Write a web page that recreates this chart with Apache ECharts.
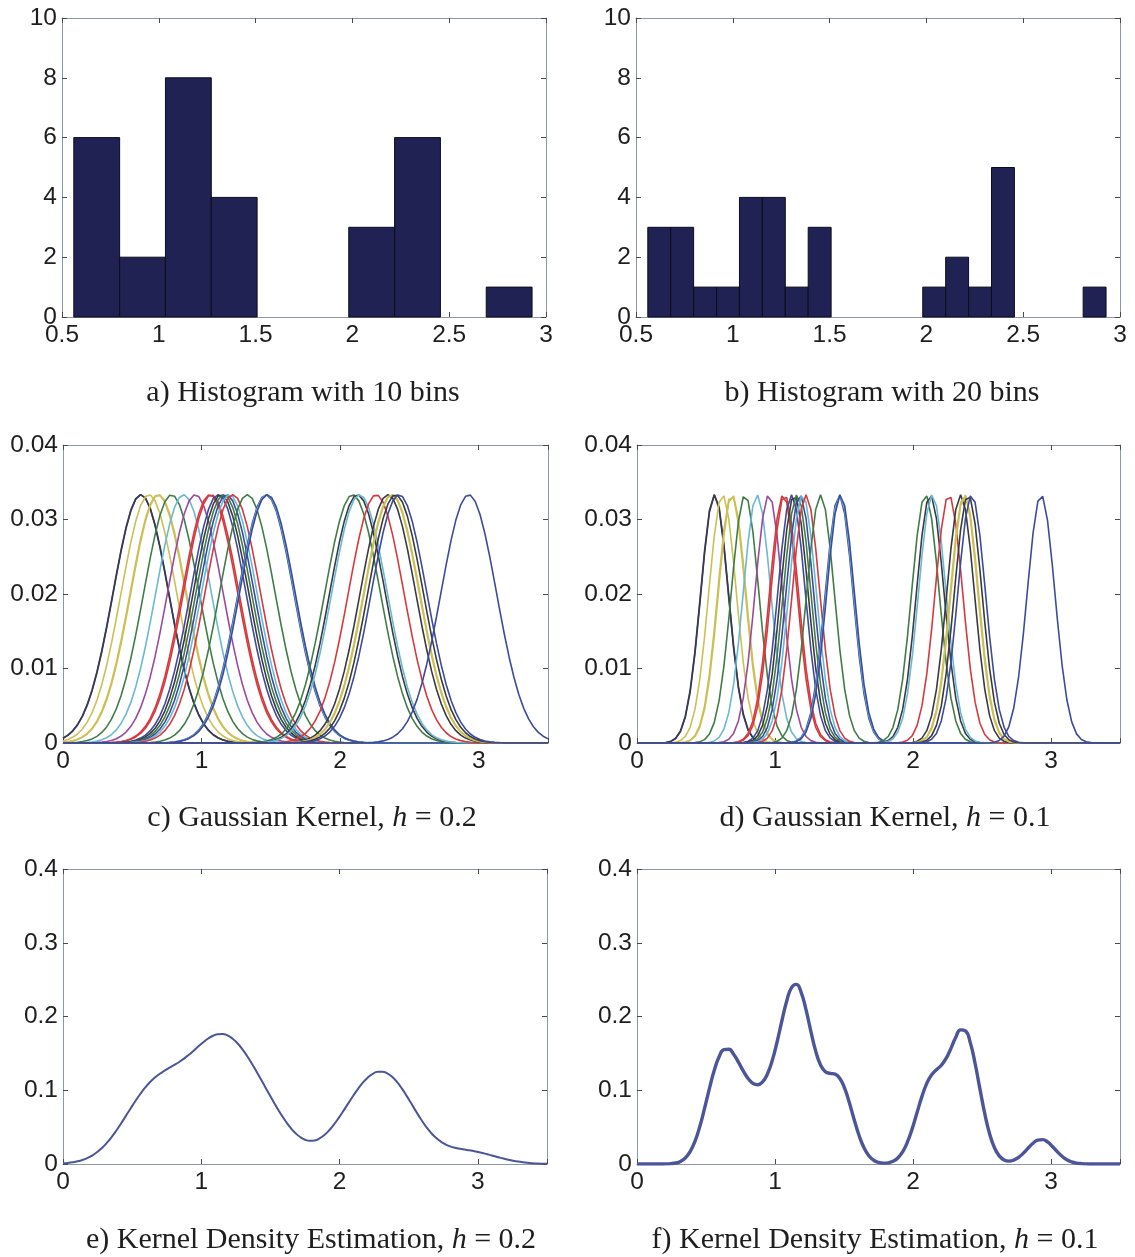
<!DOCTYPE html>
<html>
<head>
<meta charset="utf-8">
<script src="https://cdn.jsdelivr.net/npm/echarts@6/dist/echarts.min.js"></script>
<style>
  html, body { margin: 0; padding: 0; background: #ffffff; }
  #chart { width: 1135px; height: 1257px; }
</style>
</head>
<body>
<div id="chart"></div>
<script>
// The 30 observations behind every panel
const samples = [
  0.561, 0.563, 0.620, 0.685, 0.690, 0.783, 0.870, 0.955,
  1.060, 1.070, 1.120, 1.140, 1.160, 1.180, 1.200, 1.225,
  1.330, 1.465, 1.470, 1.475,
  2.090, 2.125, 2.140, 2.260, 2.345, 2.370, 2.375, 2.400, 2.425,
  2.928
];
// Colour of each observation's kernel (index into kernelPalette)
const sampleColor = [
  0, 6, 5, 5, 5, 1, 3, 4,
  2, 2, 0, 6, 1, 0, 3, 2,
  1, 0, 3, 0,
  1, 6, 3, 2, 6, 5, 5, 6, 0,
  0
];
const kernelPalette = ['#3d4b9c', '#3f7d45', '#d63a3e', '#6ab9d2', '#9b4a9d', '#cdbf55', '#3a3a44'];

// Histogram bin counts over [histRange[0], histRange[1]]
const histRange = [0.561, 2.928];
const counts10 = [6, 2, 8, 4, 0, 0, 3, 6, 0, 1];
const counts20 = [3, 3, 1, 1, 4, 4, 1, 3, 0, 0, 0, 0, 1, 2, 1, 5, 0, 0, 0, 1];

// Kernel bandwidths for the left and right columns
const bandwidths = [0.2, 0.1];
// Evaluation grid for the kernel curves
const gridStep = 0.035;
const gridCount = 101;

const captions = [
  'a) Histogram with 10 bins',
  'b) Histogram with 20 bins',
  'c) Gaussian Kernel, {i|h} = 0.2',
  'd) Gaussian Kernel, {i|h} = 0.1',
  'e) Kernel Density Estimation, {i|h} = 0.2',
  'f) Kernel Density Estimation, {i|h} = 0.1'
];

// ---------- derived series ----------
const N = samples.length;
const xs = Array.from({ length: gridCount }, (_, i) => +(i * gridStep).toFixed(4));

function binRows(counts) {
  const w = (histRange[1] - histRange[0]) / counts.length;
  return counts.map((c, i) => [histRange[0] + i * w, histRange[0] + (i + 1) * w, c]).filter(r => r[2] > 0);
}
// one Gaussian bump per observation, peak 1/N
function kernelCurve(mu, h) {
  return xs.map(x => [x, Math.exp(-((x - mu) * (x - mu)) / (2 * h * h)) / N]);
}
// density estimate = sum of the kernels, rescaled by 0.1/h
function densityCurve(h) {
  return xs.map(x => {
    let s = 0;
    samples.forEach(mu => { s += Math.exp(-((x - mu) * (x - mu)) / (2 * h * h)); });
    return [x, s / N * (0.1 / h)];
  });
}

// ---------- layout ----------
const panels = [
  { left: 62, top: 18, width: 484, height: 299 },
  { left: 636, top: 18, width: 484, height: 299 },
  { left: 63, top: 445, width: 485, height: 298 },
  { left: 637, top: 445, width: 483, height: 298 },
  { left: 63, top: 869, width: 484, height: 295 },
  { left: 637, top: 869, width: 483, height: 295 }
];
const captionPos = [[303, 393], [882, 393], [312, 818], [885, 818], [311, 1240], [875, 1240]];

const boxColor = '#8d96aa';
const tickColor = '#4a4a4a';
const labelFont = { fontFamily: 'Liberation Sans', fontSize: 24.5, color: '#1e1e1e' };

const xRanges = [
  { min: 0.5, max: 3, interval: 0.5 }, { min: 0.5, max: 3, interval: 0.5 },
  { min: 0, max: 3.5, interval: 1 }, { min: 0, max: 3.5, interval: 1 },
  { min: 0, max: 3.5, interval: 1 }, { min: 0, max: 3.5, interval: 1 }
];
const yRanges = [
  { min: 0, max: 10, interval: 2, digits: 0 }, { min: 0, max: 10, interval: 2, digits: 0 },
  { min: 0, max: 0.04, interval: 0.01, digits: 2 }, { min: 0, max: 0.04, interval: 0.01, digits: 2 },
  { min: 0, max: 0.4, interval: 0.1, digits: 1 }, { min: 0, max: 0.4, interval: 0.1, digits: 1 }
];

const grid = [], xAxis = [], yAxis = [], series = [];

panels.forEach((p, g) => {
  grid.push({ left: p.left, top: p.top, width: p.width, height: p.height, containLabel: false });
  const xr = xRanges[g], yr = yRanges[g];
  const common = {
    axisLine: { show: true, onZero: false, lineStyle: { color: boxColor, width: 1 } },
    axisTick: { show: true, inside: true, length: 5, lineStyle: { color: tickColor, width: 1 } },
    splitLine: { show: false }
  };
  xAxis.push(Object.assign({
    type: 'value', gridIndex: g, position: 'bottom', min: xr.min, max: xr.max, interval: xr.interval,
    axisLabel: Object.assign({
      margin: 6,
      formatter: v => (Math.abs(v / xr.interval - Math.round(v / xr.interval)) < 1e-6 ? String(+v.toFixed(2)) : '')
    }, labelFont)
  }, common));
  xAxis.push(Object.assign({
    type: 'value', gridIndex: g, position: 'top', min: xr.min, max: xr.max, interval: xr.interval,
    axisLabel: { show: false }
  }, common));
  yAxis.push(Object.assign({
    type: 'value', gridIndex: g, position: 'left', min: yr.min, max: yr.max, interval: yr.interval,
    axisLabel: Object.assign({
      margin: 5,
      formatter: v => (v === 0 ? '0' : v.toFixed(yr.digits))
    }, labelFont)
  }, common));
  yAxis.push(Object.assign({
    type: 'value', gridIndex: g, position: 'right', min: yr.min, max: yr.max, interval: yr.interval,
    axisLabel: { show: false }
  }, common));
});

// histograms (panels a and b)
[counts10, counts20].forEach((counts, g) => {
  series.push({
    type: 'custom',
    xAxisIndex: 2 * g, yAxisIndex: 2 * g,
    data: binRows(counts),
    encode: { x: [0, 1], y: 2 },
    renderItem: (params, api) => {
      const p0 = api.coord([api.value(0), api.value(2)]);
      const p1 = api.coord([api.value(1), 0]);
      return {
        type: 'rect',
        shape: { x: p0[0], y: p0[1], width: p1[0] - p0[0], height: p1[1] - p0[1] },
        style: { fill: '#1f2252', stroke: '#0c0c1c', lineWidth: 1 }
      };
    },
    silent: true
  });
});

// individual kernels (panels c and d)
bandwidths.forEach((h, k) => {
  const g = 2 + k;
  samples.forEach((mu, i) => {
    series.push({
      type: 'line',
      xAxisIndex: 2 * g, yAxisIndex: 2 * g,
      data: kernelCurve(mu, h),
      showSymbol: false, smooth: false, silent: true,
      lineStyle: { color: kernelPalette[sampleColor[i]], width: 1.6 }
    });
  });
});

// density estimates (panels e and f)
bandwidths.forEach((h, k) => {
  const g = 4 + k;
  series.push({
    type: 'line',
    xAxisIndex: 2 * g, yAxisIndex: 2 * g,
    data: densityCurve(h),
    showSymbol: false, smooth: true, silent: true,
    lineStyle: { color: '#4b5598', width: k === 0 ? 2 : 3.4 }
  });
});

const title = captions.map((t, i) => ({
  text: t,
  left: captionPos[i][0],
  top: captionPos[i][1],
  textAlign: 'center',
  textBaseline: 'middle',
  padding: 0,
  textStyle: {
    fontFamily: 'Liberation Serif', fontSize: 30, fontWeight: 'normal', color: '#1e1e1e',
    rich: { i: { fontFamily: 'Liberation Serif', fontStyle: 'italic', fontSize: 30, color: '#1e1e1e' } }
  }
}));

const chart = echarts.init(document.getElementById('chart'), null, { renderer: 'canvas' });
chart.setOption({
  animation: false,
  backgroundColor: '#ffffff',
  title, grid, xAxis, yAxis, series
});
</script>
</body>
</html>
